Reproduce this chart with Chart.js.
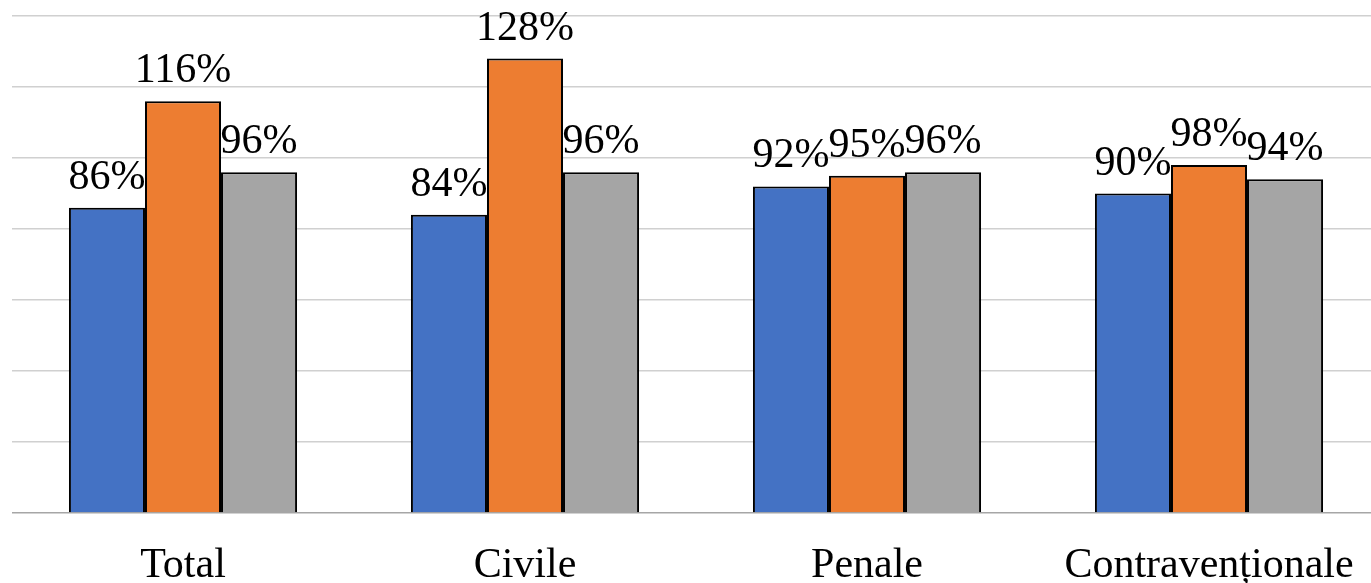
<!DOCTYPE html>
<html lang="ro">
<head>
    <meta charset="UTF-8">
    <title>Rata de soluționare</title>
    <script src="https://cdn.jsdelivr.net/npm/chart.js"></script>
    <style>
        body {
            margin: 0;
            padding: 0;
            background: #fff;
            overflow: hidden;
        }
        #wrap {
            width: 1371px;
            height: 583px;
            overflow: hidden;
        }
    </style>
</head>
<body>
    <div id="wrap">
        <canvas id="rateChart" width="1380" height="619"></canvas>
    </div>

    <script>
        // categories and series (percent values)
        const categories = ['Total', 'Civile', 'Penale', 'Contravenționale'];
        const seria1 = [86, 84, 92, 90];
        const seria2 = [116, 128, 95, 98];
        const seria3 = [96, 96, 96, 94];

        const serifFont = "'Liberation Serif', 'DejaVu Serif', serif";

        // simple value labels on top of each bar
        const barLabels = {
            id: 'barLabels',
            afterDatasetsDraw(chart) {
                const ctx = chart.ctx;
                ctx.save();
                ctx.font = '42px ' + serifFont;
                ctx.fillStyle = '#000';
                ctx.textAlign = 'center';
                ctx.textBaseline = 'alphabetic';
                chart.data.datasets.forEach((ds, i) => {
                    chart.getDatasetMeta(i).data.forEach((bar, j) => {
                        ctx.fillText(ds.data[j] + '%', bar.x, bar.y - 19);
                    });
                });
                ctx.restore();
            }
        };

        const ctx = document.getElementById('rateChart').getContext('2d');
        const rateChart = new Chart(ctx, {
            type: 'bar',
            data: {
                labels: categories,
                datasets: [
                    { label: 'Seria 1', data: seria1, backgroundColor: '#4472C4' },
                    { label: 'Seria 2', data: seria2, backgroundColor: '#ED7D31' },
                    { label: 'Seria 3', data: seria3, backgroundColor: '#A5A5A5' }
                ]
            },
            options: {
                responsive: false,
                animation: false,
                devicePixelRatio: 1,
                layout: {
                    padding: { left: 12, right: 0, top: 16, bottom: 0 }
                },
                datasets: {
                    bar: {
                        borderColor: '#000',
                        borderWidth: 2,
                        categoryPercentage: 0.667,
                        barPercentage: 1
                    }
                },
                plugins: {
                    legend: { display: false },
                    tooltip: { enabled: false }
                },
                scales: {
                    x: {
                        grid: { display: false, drawTicks: false },
                        border: { display: false },
                        ticks: {
                            color: '#000',
                            padding: 0,
                            maxRotation: 0,
                            minRotation: 0,
                            autoSkip: false,
                            font: { family: serifFont, size: 42, lineHeight: '106px' }
                        }
                    },
                    y: {
                        min: 0,
                        max: 140,
                        ticks: { display: false, stepSize: 20 },
                        border: { display: false },
                        grid: {
                            drawTicks: false,
                            lineWidth: 1.5,
                            color: (c) => c.tick && c.tick.value === 0 ? '#a6a6a6' : '#d0d0d0'
                        }
                    }
                }
            },
            plugins: [barLabels]
        });
    </script>
</body>
</html>
